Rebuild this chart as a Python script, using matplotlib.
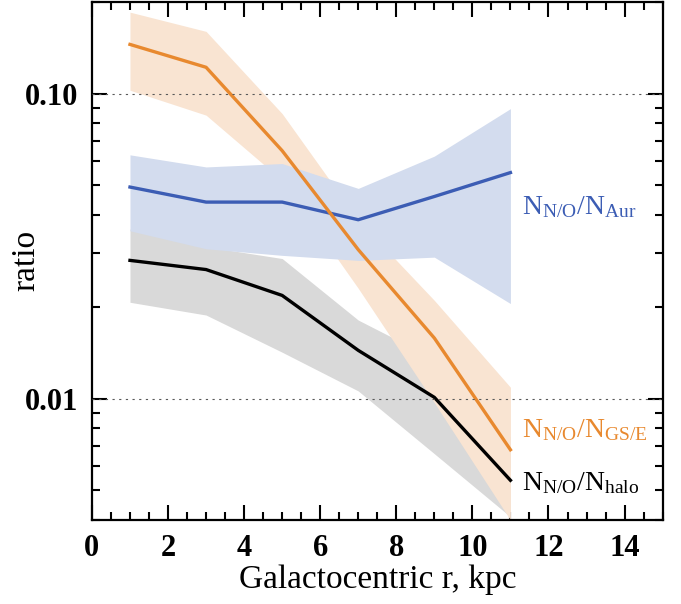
import matplotlib
matplotlib.use('Agg')
import matplotlib.pyplot as plt
from matplotlib.ticker import MultipleLocator, FixedLocator, LogLocator, NullFormatter

plt.rcParams['font.family'] = ['Liberation Serif', 'DejaVu Serif']
plt.rcParams['mathtext.fontset'] = 'custom'
plt.rcParams['mathtext.rm'] = 'Liberation Serif'
plt.rcParams['mathtext.it'] = 'Liberation Serif:italic'
plt.rcParams['mathtext.bf'] = 'Liberation Serif:bold'

# galactocentric radius bins (kpc)
r = [1, 3, 5, 7, 9, 11]

# N_N/O / N_halo
halo_mid = [0.0284, 0.0265, 0.0218, 0.0144, 0.0101, 0.0054]
halo_lo = [0.0207, 0.0188, 0.0142, 0.0106, 0.0066, 0.0041]
halo_hi = [0.0360, 0.0315, 0.0288, 0.0181, 0.0135, 0.0075]

# N_N/O / N_GS/E
gse_mid = [0.145, 0.122, 0.065, 0.0308, 0.0158, 0.0068]
gse_lo = [0.1026, 0.085, 0.052, 0.023, 0.0097, 0.0040]
gse_hi = [0.185, 0.160, 0.086, 0.0385, 0.021, 0.0109]

# N_N/O / N_Aur
aur_mid = [0.0494, 0.0441, 0.0441, 0.0386, 0.0460, 0.0551]
aur_lo = [0.0355, 0.0310, 0.0295, 0.0284, 0.0291, 0.0205]
aur_hi = [0.063, 0.0575, 0.059, 0.0489, 0.0624, 0.0893]

fig = plt.figure(figsize=(6.81, 6.04), dpi=100)
ax = fig.add_axes([0.135, 0.139, 0.838, 0.858])

ax.fill_between(r, halo_lo, halo_hi, color='#d9d9d9', lw=0, zorder=1)
ax.fill_between(r, gse_lo, gse_hi, color='#f9e4d2', lw=0, zorder=2)
ax.fill_between(r, aur_lo, aur_hi, color='#d3dcee', lw=0, zorder=3)

ax.plot(r, halo_mid, color='black', lw=2.4, zorder=5)
ax.plot(r, aur_mid, color='#3c5db4', lw=2.4, zorder=5)
ax.plot(r, gse_mid, color='#e8892f', lw=2.4, zorder=6)

for yv in [0.1, 0.01]:
    ax.axhline(yv, color='0.35', lw=0.8, ls=(0, (2, 4)), zorder=7)

ax.set_yscale('log')
ax.set_xlim(0, 15)
ax.set_ylim(0.004, 0.2)

ax.xaxis.set_major_locator(MultipleLocator(2))
ax.xaxis.set_minor_locator(MultipleLocator(0.5))
ax.yaxis.set_major_locator(FixedLocator([0.01, 0.1]))
ax.yaxis.set_minor_locator(LogLocator(base=10, subs=range(2, 10)))
ax.yaxis.set_minor_formatter(NullFormatter())
ax.set_yticklabels(['0.01', '0.10'])

ax.tick_params(which='both', direction='in', top=True, right=True, width=1.5)
ax.tick_params(which='major', length=11, labelsize=22, pad=10)
ax.tick_params(which='minor', length=6)
for lab in ax.get_xticklabels() + ax.get_yticklabels():
    lab.set_fontweight('bold')
for s in ax.spines.values():
    s.set_linewidth(1.6)

ax.set_xlabel('Galactocentric r, kpc', fontsize=24, labelpad=1)
ax.set_ylabel('ratio', fontsize=24)
ax.yaxis.set_label_coords(-0.088, 0.5)

ax.text(11.3, 0.0425, r'$\mathrm{N_{N/O}/N_{Aur}}$', color='#3c5db4', fontsize=20, va='center')
ax.text(11.3, 0.0079, r'$\mathrm{N_{N/O}/N_{GS/E}}$', color='#e8892f', fontsize=20, va='center')
ax.text(11.3, 0.0053, r'$\mathrm{N_{N/O}/N_{halo}}$', color='black', fontsize=20, va='center')

fig.savefig('out.png', dpi=100)
